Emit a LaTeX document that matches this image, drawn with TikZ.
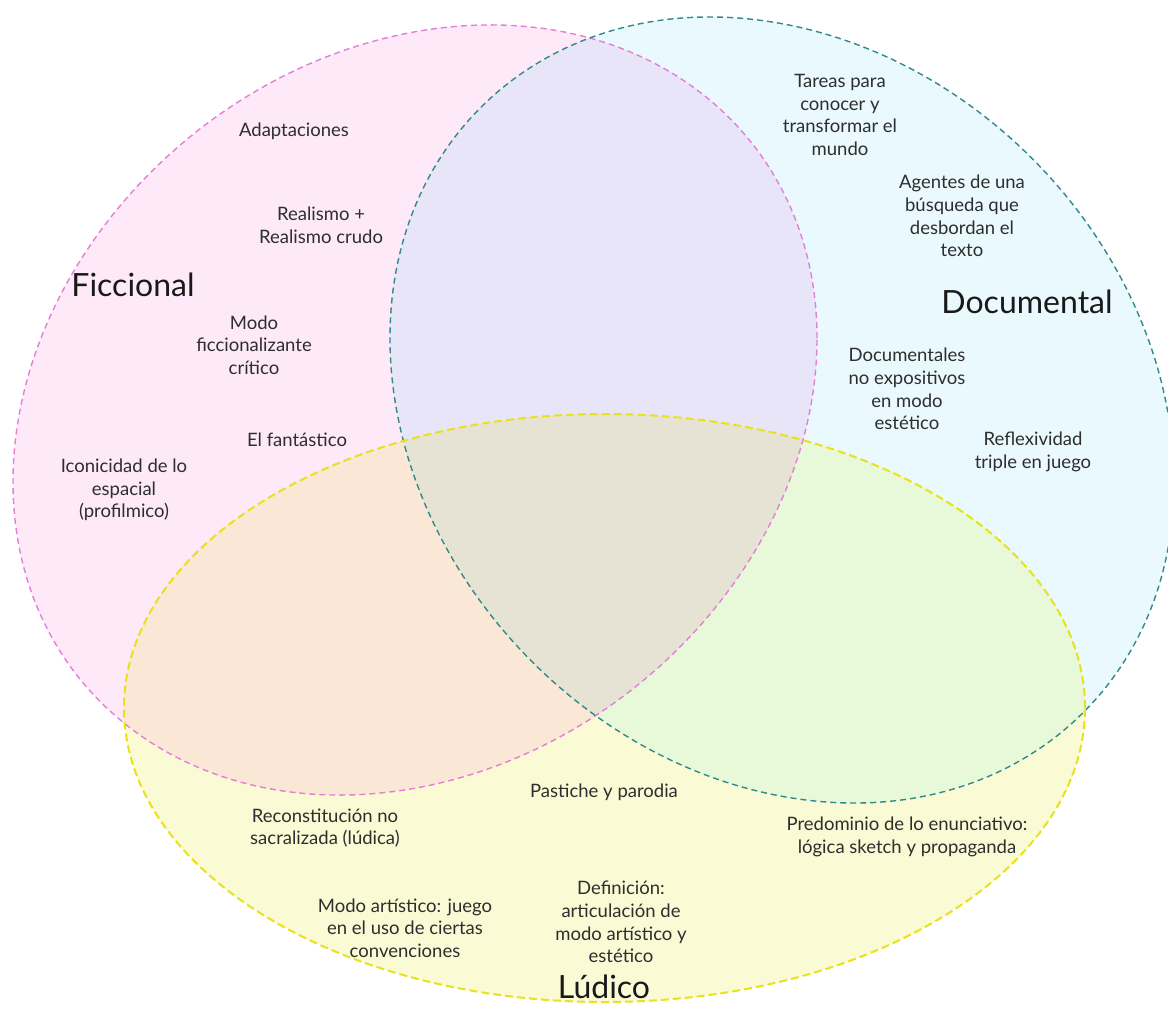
\documentclass[tikz,border=0pt]{standalone}
\usepackage{fontspec}
\setmainfont{Lato}
\definecolor{pinkfill}{HTML}{FDE9F8}
\definecolor{bluefill}{HTML}{E9F9FE}
\definecolor{yelfill}{HTML}{FAFAD5}
\definecolor{pbfill}{HTML}{E9E5F9}
\definecolor{pyfill}{HTML}{FAE7D6}
\definecolor{byfill}{HTML}{E7F9D9}
\definecolor{allfill}{HTML}{E6E3D4}
\definecolor{pinkline}{HTML}{E57ED6}
\definecolor{blueline}{HTML}{2F8A88}
\definecolor{yelline}{HTML}{E9E21A}
\definecolor{txt}{HTML}{2E2E2E}
\begin{document}
\begin{tikzpicture}[x=1pt,y=-1pt,
  pinkE/.style={cm={402,72,0,378.2,(415,410)}},
  blueE/.style={cm={392,-72,0,386.3,(782,410)}},
  yellowE/.style={cm={480.5,0,0,294,(604.5,708)}},
  lbl/.style={font=\fontsize{18.5}{22.6}\selectfont, text=txt, align=center, inner sep=0pt},
  ttl/.style={font=\fontsize{32}{36}\selectfont, text=black!90, inner sep=0pt},
  outline/.style={dash pattern=on 6pt off 4pt, line width=1.4pt}]
\useasboundingbox (0,0) rectangle (1168,1030);
% fills
\fill[pinkfill, pinkE] (0,0) circle (1pt);
\fill[bluefill, blueE] (0,0) circle (1pt);
\fill[yelfill, yellowE] (0,0) circle (1pt);
\begin{scope}
  \clip[pinkE] (0,0) circle (1pt);
  \fill[pbfill, blueE] (0,0) circle (1pt);
  \fill[pyfill, yellowE] (0,0) circle (1pt);
\end{scope}
\begin{scope}
  \clip[blueE] (0,0) circle (1pt);
  \fill[byfill, yellowE] (0,0) circle (1pt);
  \clip[pinkE] (0,0) circle (1pt);
  \fill[allfill, yellowE] (0,0) circle (1pt);
\end{scope}
% outlines
\draw[outline, pinkline, pinkE] (0,0) circle (1pt);
\draw[outline, blueline, blueE] (0,0) circle (1pt);
\draw[outline, yelline, line width=2pt, dash pattern=on 8pt off 4pt, yellowE] (0,0) circle (1pt);
% titles
\node[ttl] (ficcional) at (133,285) {Ficcional};
\node[ttl] (documental) at (1027,302) {Documental};
\node[ttl] (ludico) at (604,987) {Lúdico};
% labels
\node[lbl] (adapt) at (294,131) {Adaptaciones};
\node[lbl] (realismo) at (321,225) {Realismo +\\Realismo crudo};
\node[lbl] (modo) at (254,345) {Modo\\ficcionalizante\\crítico};
\node[lbl] (fant) at (297,440) {El fantástico};
\node[lbl] (icon) at (124,490) {Iconicidad de lo\\espacial\\(profilmico)};
\node[lbl] (tareas) at (840,115) {Tareas para\\conocer y\\transformar el\\mundo};
\node[lbl] (agentes) at (962,216) {Agentes de una\\búsqueda que\\desbordan el\\texto};
\node[lbl] (docnoexp) at (907,389) {Documentales\\no expositivos\\en modo\\estético};
\node[lbl] (reflex) at (1033,452) {Reflexividad\\triple en juego};
\node[lbl] (pastiche) at (604,792) {Pastiche y parodia};
\node[lbl] (recons) at (325,828) {Reconstitución no\\sacralizada (lúdica)};
\node[lbl] (predom) at (907,837) {Predominio de lo enunciativo:\\lógica sketch y propaganda};
\node[lbl] (artistico) at (405,928) {Modo artístico: juego\\en el uso de ciertas\\convenciones};
\node[lbl] (defin) at (621,922) {Definición:\\articulación de\\modo artístico y\\estético};
\end{tikzpicture}
\end{document}
